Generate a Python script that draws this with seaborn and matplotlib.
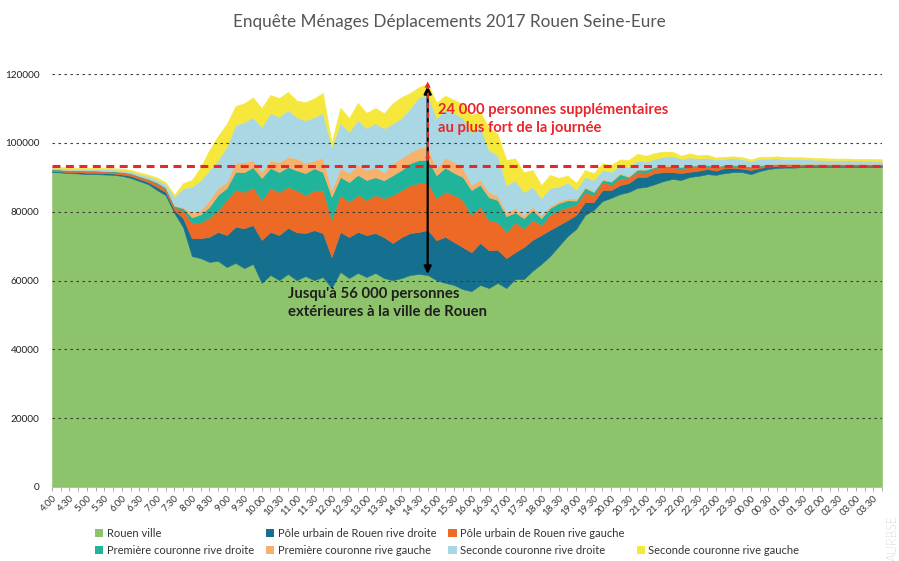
import matplotlib
matplotlib.use("Agg")
import matplotlib.pyplot as plt
import seaborn as sns
import numpy as np
from matplotlib.patches import Patch

# ---------------- data (persons, every 15 minutes from 4.00 to 3.45) ----------------
series_names = [
    "Rouen ville",
    "Pôle urbain de Rouen rive droite",
    "Pôle urbain de Rouen rive gauche",
    "Première couronne rive droite",
    "Première couronne rive gauche",
    "Seconde couronne rive droite",
    "Seconde couronne rive gauche",
]
series_colors = ["#8dc46b", "#15708f", "#ec6a25", "#20b49d", "#f6b26c", "#a9d8e4", "#f6e73c"]

rouen_ville = [
    91500, 91400, 91200, 91100, 90900, 90900, 90800, 90700, 90400, 89800,
    88900, 88000, 86300, 84800, 79600, 75500, 67100, 66500, 65400, 65700,
    63900, 65100, 63600, 64800, 59300, 61600, 60100, 61900, 60100, 61300,
    60100, 61000, 57800, 62500, 60700, 62200, 61000, 62200, 60700, 60100,
    60700, 61600, 61900, 61600, 60100, 59300, 58700, 57500, 56900, 58700,
    57800, 59300, 57800, 60400, 60400, 62800, 64800, 67100, 70000, 72900,
    75000, 79000, 80500, 83100, 84000, 85100, 85700, 86900, 87200, 88000,
    88900, 89500, 89200, 90100, 90400, 90900, 90700, 91200, 91500, 91500,
    90900, 91800, 92400, 92700, 92800, 92800, 93000, 93000, 93000, 93000,
    93000, 93000, 93000, 93000, 93000, 93000,
]
pole_rive_droite = [
    300, 300, 300, 400, 400, 400, 400, 400, 400, 600,
    600, 600, 900, 900, 900, 2600, 5200, 5800, 7300, 8400,
    9300, 10500, 11600, 11300, 12500, 12500, 13100, 13400, 13900, 12500,
    14500, 12800, 9000, 11600, 11900, 11900, 12200, 11600, 11900, 10800,
    11900, 12200, 12200, 13100, 11600, 13400, 12500, 12200, 11300, 12200,
    11000, 9600, 8700, 7800, 9300, 9000, 8400, 7600, 6100, 4600,
    4100, 3800, 2300, 3200, 2300, 2600, 2600, 3200, 2900, 3200,
    2600, 2000, 2000, 1500, 1500, 1500, 1200, 1500, 1200, 1000,
    1200, 900, 700, 600, 500, 500, 400, 400, 400, 400,
    400, 400, 400, 400, 400, 400,
]
pole_rive_gauche = [
    400, 400, 400, 400, 500, 500, 500, 500, 600, 600,
    600, 700, 1000, 1000, 900, 2300, 4400, 4600, 5500, 6400,
    10200, 10800, 10500, 11000, 11600, 12800, 12500, 11900, 12200, 11000,
    11600, 12500, 10800, 10800, 10200, 10800, 10200, 11000, 11300, 13900,
    13700, 13900, 14200, 13700, 12200, 13100, 13700, 13700, 10800, 10500,
    8700, 8100, 7600, 8700, 5500, 5800, 2900, 4400, 4400, 3800,
    2900, 2900, 2000, 2300, 1500, 2000, 1500, 1500, 1200, 1500,
    1500, 1500, 1200, 1500, 1200, 900, 900, 600, 600, 600,
    700, 600, 400, 400, 400, 400, 300, 300, 300, 300,
    300, 300, 300, 300, 300, 300,
]
premiere_rive_droite = [
    150, 150, 150, 150, 150, 150, 150, 170, 150, 150,
    200, 200, 300, 300, 300, 600, 1700, 2300, 3200, 4400,
    3500, 5200, 5800, 5800, 6400, 5800, 5800, 5800, 5800, 6400,
    6400, 5200, 6700, 5200, 5800, 5800, 5800, 5200, 5200, 5800,
    5800, 6400, 6700, 6700, 6700, 7000, 6400, 6700, 7300, 6400,
    6700, 6400, 4600, 2900, 2900, 2900, 2000, 2000, 2000, 2000,
    1200, 1200, 900, 600, 900, 1200, 300, 600, 900, 300,
    300, 300, 600, 300, 300, 300, 300, 300, 300, 300,
    300, 300, 200, 200, 200, 200, 170, 170, 170, 170,
    170, 170, 170, 170, 150, 150,
]
premiere_rive_gauche = [
    60, 60, 60, 60, 90, 90, 90, 60, 90, 150,
    150, 170, 150, 150, 150, 300, 1500, 1200, 2000, 2000,
    1700, 2600, 2900, 2000, 1700, 2300, 2900, 2900, 3500, 2900,
    2300, 4100, 2000, 2600, 2600, 2900, 2900, 2900, 2300, 3500,
    3500, 3200, 3500, 3800, 2000, 2900, 3200, 2600, 1500, 1500,
    1500, 1200, 1200, 1200, 900, 900, 900, 600, 600, 600,
    600, 300, 300, 300, 300, 300, 300, 150, 150, 150,
    150, 150, 150, 150, 150, 150, 150, 150, 150, 150,
    150, 90, 90, 90, 90, 90, 90, 90, 90, 90,
    90, 90, 90, 90, 90, 90,
]
seconde_rive_droite = [
    380, 380, 380, 350, 350, 350, 410, 440, 490, 440,
    520, 640, 730, 870, 2500, 5500, 7300, 8700, 8700, 8100,
    10200, 11000, 11600, 12500, 13100, 13700, 13100, 13700, 11900, 12500,
    12500, 13100, 12500, 13100, 11900, 13100, 12200, 12800, 12800, 11600,
    11600, 12800, 14800, 15100, 14500, 13900, 14200, 14500, 15100, 15400,
    12200, 11900, 7800, 8100, 6700, 5800, 4900, 5200, 4100, 4600,
    2600, 2900, 3200, 2600, 2600, 2300, 2600, 2500, 2200, 2200,
    2500, 2800, 2200, 2200, 1900, 1900, 1900, 1600, 1900, 1700,
    1500, 1700, 1600, 1500, 1300, 1300, 1300, 1200, 1100, 1000,
    1000, 1000, 900, 900, 900, 800,
]
seconde_rive_gauche = [
    290, 290, 290, 290, 350, 350, 380, 380, 350, 440,
    440, 440, 580, 580, 580, 1500, 2000, 3800, 5800, 7000,
    6700, 5500, 5500, 5800, 5500, 5200, 5500, 5200, 4900, 5200,
    5500, 5800, 1200, 4400, 4100, 4900, 4400, 4400, 4400, 5800,
    6100, 4400, 2900, 3200, 4600, 4100, 3800, 4100, 5200, 4400,
    6400, 6100, 7300, 6400, 5800, 4900, 3800, 3800, 2600, 2000,
    2000, 2000, 2000, 2000, 2000, 1700, 2000, 2000, 1700, 1700,
    1500, 1200, 900, 1200, 900, 900, 600, 600, 440, 580,
    440, 580, 580, 580, 580, 520, 520, 490, 490, 520,
    440, 470, 490, 490, 470, 470,
]

half_hour_labels = [
    "4.00", "4.30", "5.00", "5.30", "6.00", "6.30", "7.00", "7.30", "8.00", "8.30",
    "9.00", "9.30", "10.00", "10.30", "11.00", "11.30", "12.00", "12.30", "13.00", "13.30",
    "14.00", "14.30", "15.00", "15.30", "16.00", "16.30", "17.00", "17.30", "18.00", "18.30",
    "19.00", "19.30", "20.00", "20.30", "21.00", "21.30", "22.00", "22.30", "23.00", "23.30",
    "00.00", "00.30", "01.00", "01.30", "02.00", "02.30", "03.00", "03.30",
]
y_ticks = [0, 20000, 40000, 60000, 80000, 100000, 120000]

reference_level = 93300          # red dashed line (population of Rouen ville)
peak_index = 43                  # 14.45
peak_total = 117300
peak_rouen = 61900

title = "Enquête Ménages Déplacements 2017 Rouen Seine-Eure"
note_red = "24 000 personnes supplémentaires\nau plus fort de la journée"
note_black = "Jusqu'à 56 000 personnes\nextérieures à la ville de Rouen"

# ---------------- figure ----------------
sns.set_theme(style="white")
plt.rcParams["font.family"] = ["Lato", "DejaVu Sans"]

W, H = 899, 561
fig = plt.figure(figsize=(W / 100, H / 100), dpi=100)
fig.patch.set_facecolor("white")
ax = fig.add_axes([52 / W, 1 - 487 / H, 830 / W, 413 / H])

series = [rouen_ville, pole_rive_droite, pole_rive_gauche, premiere_rive_droite,
          premiere_rive_gauche, seconde_rive_droite, seconde_rive_gauche]
x = np.arange(len(rouen_ville))
polys = ax.stackplot(x, *series, colors=series_colors, zorder=1)
for p, c in zip(polys, series_colors):
    p.set_edgecolor(c)
    p.set_linewidth(0.4)

ax.set_xlim(0, len(x) - 1)
ax.set_ylim(0, 120000)
sns.despine(ax=ax, left=True, bottom=True, right=True, top=True)

# grid (drawn above the areas, like the original)
for yv in y_ticks[1:]:
    ax.axhline(yv, color="#3a3a3a", lw=0.8, ls=(0, (2.2, 3.2)), zorder=3)

ax.set_yticks(y_ticks)
ax.set_yticklabels([str(v) for v in y_ticks], fontsize=7.2, color="#222222")
ax.tick_params(axis="y", length=0, pad=9)

ax.set_xticks(x)
xlabels = [half_hour_labels[i // 2] if i % 2 == 0 else "" for i in range(len(x))]
ax.set_xticklabels(xlabels, rotation=45, ha="right", rotation_mode="anchor",
                   fontsize=7, color="#333333")
ax.tick_params(axis="x", bottom=True, length=3, width=0.6, color="#9a9a9a", pad=2)

# red dashed reference line
red = "#e8262b"
ax.axhline(reference_level, color=red, lw=2.2, ls=(0, (2.6, 1.8)), zorder=4)

# black double arrow
ax.annotate("", xy=(peak_index, peak_rouen), xytext=(peak_index, peak_total - 800),
            arrowprops=dict(arrowstyle="<|-|>", color="black", lw=1.6,
                            mutation_scale=11, shrinkA=0, shrinkB=0), zorder=5)
# red dashed double arrow
ax.plot([peak_index, peak_index], [reference_level + 2500, peak_total - 1500],
        color=red, lw=1.4, ls=(0, (3, 2)), zorder=6)
ax.annotate("", xy=(peak_index, peak_total + 500), xytext=(peak_index, peak_total - 3000),
            arrowprops=dict(arrowstyle="-|>", color=red, lw=0, mutation_scale=11,
                            shrinkA=0, shrinkB=0), zorder=7)
ax.annotate("", xy=(peak_index, reference_level + 1200), xytext=(peak_index, reference_level + 4500),
            arrowprops=dict(arrowstyle="-|>", color=red, lw=0, mutation_scale=9,
                            shrinkA=0, shrinkB=0), zorder=7)

fig.text(438 / W, 1 - 103 / H, note_red, ha="left", va="top", fontsize=10.6,
         fontweight="bold", color=red, linespacing=1.32)
fig.text(288 / W, 1 - 287 / H, note_black, ha="left", va="top", fontsize=10.7,
         fontweight="bold", color="#1e1e1e", linespacing=1.32)

fig.text(0.5, 1 - 22 / H, title, ha="center", va="center", fontsize=12.3, color="#555555")
fig.text(893 / W, 0.0, "AURBSE", rotation=90, ha="center", va="bottom",
         fontsize=9, color="#777777", fontweight="light")

# legend: 4 columns, filled column-wise, with one empty slot
handles = [Patch(facecolor=c, edgecolor="none") for c in series_colors]
blank = Patch(facecolor="none", edgecolor="none")
order_h = [handles[0], handles[3], handles[1], handles[4], handles[2], handles[5], blank, handles[6]]
order_l = [series_names[0], series_names[3], series_names[1], series_names[4],
           series_names[2], series_names[5], "", series_names[6]]
leg = fig.legend(order_h, order_l, loc="upper left", bbox_to_anchor=(95 / W, 1 - 528 / H),
                 ncol=4, frameon=False, fontsize=8, handlelength=0.75, handleheight=0.75,
                 handletextpad=0.3, columnspacing=1.1, labelspacing=0.5,
                 borderaxespad=0, borderpad=0)
for t in leg.get_texts():
    t.set_color("#333333")

fig.savefig("out.png", dpi=100, facecolor="white")
